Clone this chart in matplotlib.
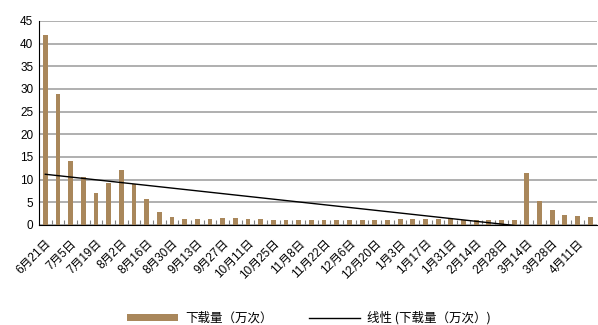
import numpy as np
import matplotlib
matplotlib.use("Agg")
import matplotlib.pyplot as plt
from matplotlib.patches import Patch
from matplotlib.lines import Line2D

plt.rcParams['font.family'] = ['Liberation Sans', 'Noto Sans CJK SC', 'DejaVu Sans']

# weekly downloads (10k), one bar per week from 6月21日
downloads = [42.0, 29.0, 14.1, 10.6, 7.1, 9.3, 12.2, 9.1, 5.8, 2.9,
             1.8, 1.4, 1.25, 1.4, 1.6, 1.6, 1.3, 1.25, 1.2, 1.2,
             1.2, 1.2, 1.1, 1.2, 1.2, 1.0, 1.1, 1.1, 1.25, 1.25,
             1.3, 1.4, 1.3, 1.2, 1.2, 1.1, 1.1, 1.2, 11.4, 5.3,
             3.3, 2.3, 2.0, 1.8]

# labels shown on every other week
tick_labels = ['6月21日', '7月5日', '7月19日', '8月2日', '8月16日', '8月30日',
               '9月13日', '9月27日', '10月11日', '10月25日', '11月8日', '11月22日',
               '12月6日', '12月20日', '1月3日', '1月17日', '1月31日', '2月14日',
               '2月28日', '3月14日', '3月28日', '4月11日']

bar_label = '下载量（万次）'
line_label = '线性 (下载量（万次）)'
bar_color = '#A9875B'

x = np.arange(len(downloads))
# excel style linear trend line
slope, intercept = np.polyfit(x, downloads, 1)
trend = slope * x + intercept

fig = plt.figure(figsize=(5.98, 3.25), dpi=100)
ax = fig.add_axes([0.0652, 0.3077, 0.9323, 0.6277])

ax.bar(x, downloads, width=0.38, color=bar_color, zorder=2)
ax.plot(x, trend, color='black', linewidth=1.0, zorder=3)

ax.set_xlim(-0.5, len(downloads) - 0.5)
ax.set_ylim(0, 45)
ax.set_yticks(np.arange(0, 46, 5))
ax.yaxis.grid(True, color='#9A9A9A', linewidth=1.1, zorder=0)
ax.set_axisbelow(True)

for s in ['top', 'right']:
    ax.spines[s].set_visible(False)
ax.spines['left'].set_color('black')
ax.spines['bottom'].set_color('black')
ax.spines['bottom'].set_zorder(4)

ax.tick_params(axis='y', length=0, labelsize=8.5, pad=4)
ax.set_xticks(x[::2])
ax.set_xticklabels(tick_labels, rotation=45, ha='right', rotation_mode='anchor',
                   fontsize=8.5)
ax.tick_params(axis='x', which='major', length=0, pad=9)
ax.set_xticks(np.arange(0.5, len(downloads) - 1, 1), minor=True)
ax.tick_params(axis='x', which='minor', direction='in', length=3.5,
               color='#808080', width=0.8)

handles = [Patch(facecolor=bar_color, label=bar_label),
           Line2D([0], [0], color='black', linewidth=1.0, label=line_label)]
fig.legend(handles=handles, loc='center', bbox_to_anchor=(0.516, 0.0215),
           ncol=2, frameon=False, handlelength=4.1,
           handleheight=0.5, columnspacing=2.9, handletextpad=0.56,
           prop={'family': ['Noto Sans CJK SC'], 'size': 9})

fig.savefig('out.png', dpi=100)
